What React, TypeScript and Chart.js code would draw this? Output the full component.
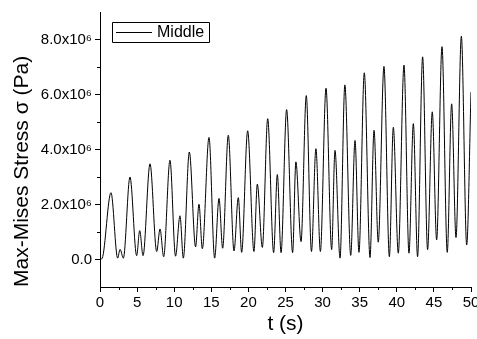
import React, { useEffect, useRef } from "react";
import { Chart, registerables } from "chart.js";

Chart.register(...registerables);

// Time (s) of the extrema
const tValues = [
  0, 0.3, 1.48, 2.38, 2.7, 3.15, 4.04, 4.94, 5.35, 5.8, 6.74, 7.64, 8.09, 8.58,
  9.43, 10.18, 10.78, 11.23, 12.04, 12.88, 13.34, 13.79, 14.69, 15.45, 16.04,
  16.53, 17.29, 18.06, 18.64, 19.09, 19.9, 20.75, 21.2, 21.88, 22.6, 23.4, 23.9,
  24.4, 25.15, 25.96, 26.4, 27.09, 27.8, 28.5, 29.1, 29.7, 30.46, 31.22, 31.67,
  32.35, 33.0, 33.79, 34.37, 34.9, 35.62, 36.39, 36.93, 37.5, 38.27, 39.0,
  39.53, 40.2, 40.97, 41.64, 42.23, 42.8, 43.48, 44.15, 44.78, 45.37, 46.09,
  46.8, 47.39, 47.98, 48.7, 49.42, 50,
];

// Max-Mises stress in units of 1e6 Pa
const stressMPa = [
  0, 0.05, 2.43, 0.05, 0.37, 0.05, 3.0, 0.14, 1.05, 0.14, 3.48, 0.29, 1.11, 0.1,
  3.61, 0.12, 1.59, 0.05, 3.91, 0.46, 2.01, 0.39, 4.44, 0.05, 2.22, 0.41, 4.52,
  0.31, 2.25, 0.26, 4.68, 0.29, 2.74, 0.44, 5.12, 0.25, 3.09, 0.25, 5.45, 0.25,
  3.55, 0.65, 5.96, 0.29, 4.03, 0.29, 6.23, 0.36, 3.97, 0.05, 6.35, 0.15, 4.33,
  0.26, 6.79, 0.07, 4.7, 0.63, 7.02, 0.1, 4.81, 0.23, 7.07, 0.23, 4.94, 0.1,
  7.37, 0.36, 5.37, 0.71, 7.74, 0.26, 5.66, 0.8, 8.12, 0.53, 6.09,
];

const seriesName = "Middle";
const xTitle = "t (s)";
const yTitle = "Max-Mises Stress σ (Pa)";
const xMajorTicks = [0, 5, 10, 15, 20, 25, 30, 35, 40, 45, 50];
const yMajorTicks = [0, 2e6, 4e6, 6e6, 8e6];
const xMinorTicks = [2.5, 7.5, 12.5, 17.5, 22.5, 27.5, 32.5, 37.5, 42.5, 47.5];
const yMinorTicks = [1e6, 3e6, 5e6, 7e6];

const FONT = "'Liberation Sans', Arial, sans-serif";

export default function App() {
  const ref = useRef<HTMLCanvasElement | null>(null);

  useEffect(() => {
    const canvas = ref.current;
    if (!canvas) return;

    const minorTickPlugin = {
      id: "minorTicksAndLegend",
      afterDraw(chart: any) {
        const ctx = chart.ctx;
        const xs = chart.scales.x;
        const ys = chart.scales.y;
        const area = chart.chartArea;
        ctx.save();
        ctx.strokeStyle = "#000";
        ctx.lineWidth = 1;
        ctx.beginPath();
        for (const v of xMinorTicks) {
          const px = Math.round(xs.getPixelForValue(v)) + 0.5;
          ctx.moveTo(px, area.bottom);
          ctx.lineTo(px, area.bottom + 3);
        }
        for (const v of yMinorTicks) {
          const py = Math.round(ys.getPixelForValue(v)) + 0.5;
          ctx.moveTo(area.left, py);
          ctx.lineTo(area.left - 3, py);
        }
        ctx.stroke();

        // legend box
        const bx = area.left + 12;
        const by = area.top + 10;
        const bw = 97;
        const bh = 20;
        ctx.beginPath();
        ctx.rect(Math.round(bx) + 0.5, Math.round(by) + 0.5, bw, bh);
        ctx.stroke();
        ctx.beginPath();
        ctx.moveTo(bx + 4, by + bh / 2 + 0.5);
        ctx.lineTo(bx + 40, by + bh / 2 + 0.5);
        ctx.stroke();
        ctx.fillStyle = "#000";
        ctx.font = `16px ${FONT}`;
        ctx.textBaseline = "middle";
        ctx.textAlign = "left";
        ctx.fillText(chart.data.datasets[0].label, bx + 45, by + bh / 2 + 1);
        ctx.restore();
      },
    };

    const chart = new Chart(canvas, {
      type: "line",
      data: {
        datasets: [
          {
            label: seriesName,
            data: tValues.map((t, i) => ({ x: t, y: stressMPa[i] * 1e6 })),
            borderColor: "#000",
            borderWidth: 1,
            pointRadius: 0,
            cubicInterpolationMode: "monotone",
            fill: false,
          },
        ],
      },
      options: {
        animation: false,
        responsive: false,
        devicePixelRatio: 1,
        layout: { padding: { left: 0, right: 6, top: 8, bottom: 0 } },
        plugins: {
          legend: { display: false },
          tooltip: { enabled: false },
        },
        scales: {
          x: {
            type: "linear",
            min: 0,
            max: 50,
            afterBuildTicks: (s: any) => {
              s.ticks = xMajorTicks.map((v) => ({ value: v }));
            },
            afterFit: (s: any) => {
              s.height = 52;
              s.paddingLeft = 0;
              s.paddingRight = 0;
            },
            ticks: {
              color: "#000",
              font: { family: FONT, size: 15 },
              padding: 2,
              maxRotation: 0,
              autoSkip: false,
            },
            grid: {
              drawOnChartArea: false,
              drawTicks: true,
              tickLength: 5,
              tickColor: "#000",
            },
            border: { display: true, color: "#000", width: 1 },
            title: {
              display: true,
              text: xTitle,
              color: "#000",
              font: { family: FONT, size: 21 },
              padding: { top: 0, bottom: 2 },
            },
          },
          y: {
            type: "linear",
            min: -1e6,
            max: 9e6,
            afterBuildTicks: (s: any) => {
              s.ticks = yMajorTicks.map((v) => ({ value: v }));
            },
            afterFit: (s: any) => {
              s.width = 100;
            },
            ticks: {
              color: "#000",
              font: { family: FONT, size: 15 },
              padding: 3,
              callback: (v: any) =>
                v === 0 ? "0.0" : (v / 1e6).toFixed(1) + "x10⁶",
            },
            grid: {
              drawOnChartArea: false,
              drawTicks: true,
              tickLength: 5,
              tickColor: "#000",
            },
            border: { display: true, color: "#000", width: 1 },
            title: {
              display: true,
              text: yTitle,
              align: "start",
              color: "#000",
              font: { family: FONT, size: 21 },
              padding: { top: 10, bottom: 0 },
            },
          },
        },
      },
      plugins: [minorTickPlugin],
    } as any);

    return () => chart.destroy();
  }, []);

  return (
    <div style={{ position: "fixed", left: 0, top: 0, width: 477, height: 339, background: "#fff" }}>
      <canvas ref={ref} width={477} height={339} />
    </div>
  );
}
